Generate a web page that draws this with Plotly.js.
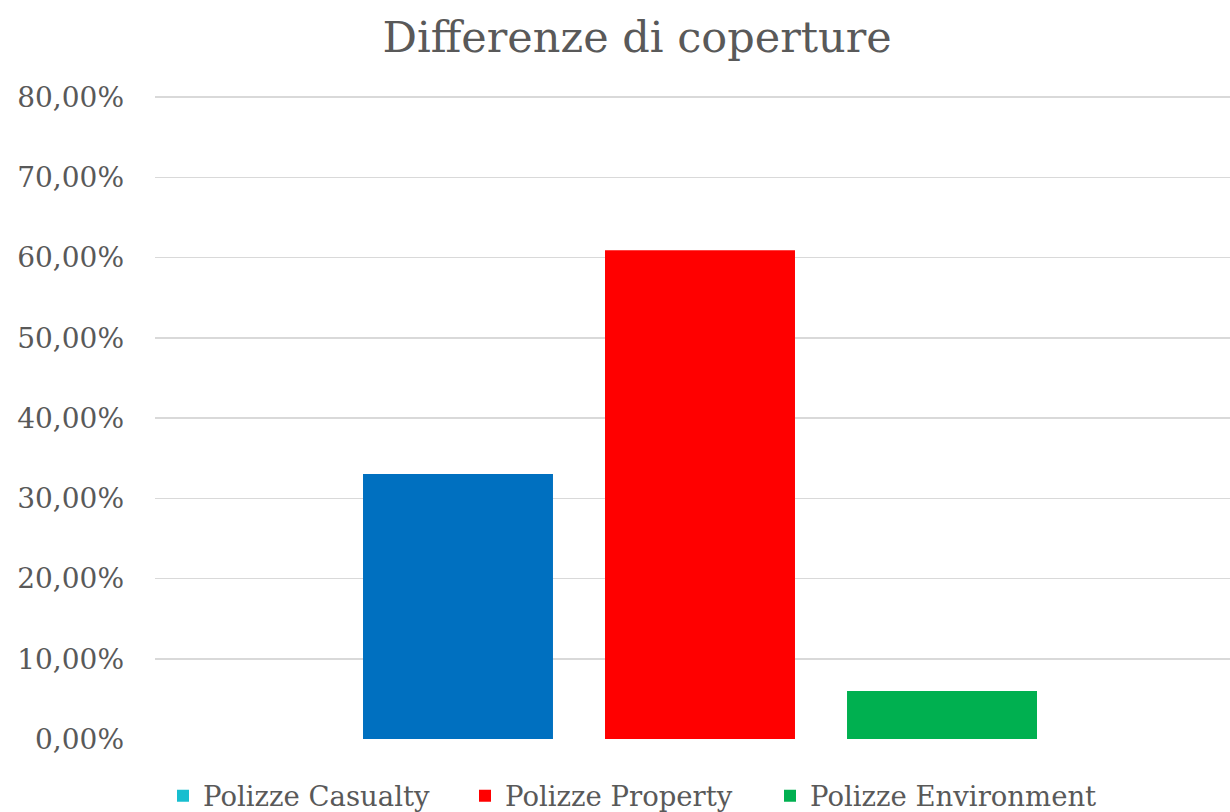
<!DOCTYPE html>
<html><head><meta charset="utf-8">
<script src="https://cdn.plot.ly/plotly-3.0.1.min.js"></script>
<style>html,body{margin:0;padding:0;background:#fff}#chart{width:1230px;height:812px}</style>
</head><body><div id="chart"></div>
<script>
const categories = ["Casualty", "Property", "Environment"];
const seriesNames = ["Polizze Casualty", "Polizze Property", "Polizze Environment"];
const values = [0.3302, 0.6093, 0.0598];
const barColors = ["#0070C0", "#FF0000", "#00B050"];
const legendColors = ["#17BECF", "#FF0000", "#00B050"];

const font = "DejaVu Serif";
const legendIds = ["legend", "legend2", "legend3"];
const legendX = [163, 465, 770];
const traces = [];
// visible bars
categories.forEach((c, i) => {
  traces.push({
    type: "bar", x: [c], y: [values[i]], name: seriesNames[i],
    marker: {color: barColors[i]}, width: 0.785,
    showlegend: false, hoverinfo: "skip"
  });
});
// legend entries
seriesNames.forEach((n, i) => {
  traces.push({
    type: "bar", x: [categories[0]], y: [0], name: n, legend: legendIds[i],
    marker: {color: legendColors[i]}, width: 0.785, showlegend: true, hoverinfo: "skip"
  });
});

const layout = {
  width: 1230, height: 812,
  margin: {l: 155, r: 0, t: 96, b: 73},
  paper_bgcolor: "#fff", plot_bgcolor: "#fff",
  separators: ",.",
  barmode: "overlay",
  font: {family: font, color: "#595959"},
  title: {text: "Differenze di coperture", font: {family: font, size: 43, color: "#595959"},
          x: 0.518, xanchor: "center", y: 0.955, yanchor: "middle"},
  xaxis: {type: "category", range: [-1.252, 3.19], showticklabels: false, showgrid: false,
          zeroline: false, showline: false, fixedrange: true},
  yaxis: {range: [0, 0.8015], dtick: 0.1, tickformat: ".2%", gridcolor: "#D9D9D9", gridwidth: 1.5,
          zeroline: false, showline: false, ticks: "", ticklen: 0, ticklabelstandoff: 30,
          tickfont: {family: font, size: 28, color: "#595959"}, automargin: false},
  showlegend: true
};
legendIds.forEach((id, i) => {
  layout[id] = {orientation: "h", xref: "container", x: legendX[i] / 1230, xanchor: "left",
                yref: "container", y: 0.02, yanchor: "middle",
                font: {family: font, size: 27.5, color: "#595959"}, itemwidth: 30};
});
Plotly.newPlot("chart", traces, layout, {displayModeBar: false, staticPlot: true});
</script></body></html>
